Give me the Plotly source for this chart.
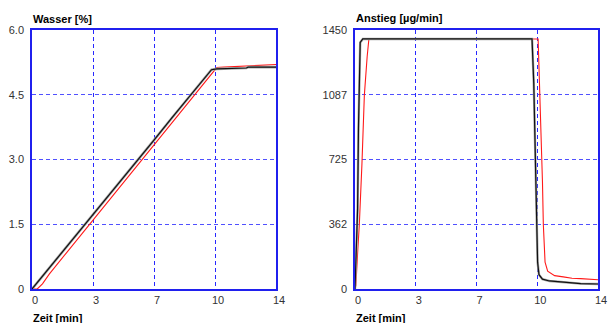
import plotly.graph_objects as go

# ---- data ----
w_t_black = [0, 1, 2, 3, 4, 5, 6, 7, 8, 9, 9.7, 10.3, 10.6, 11.5, 12.3, 12.4, 14]
w_v_black = [0, 0.49, 0.98, 1.47, 1.96, 2.46, 2.95, 3.45, 3.95, 4.45, 4.8, 5.08, 5.10, 5.11, 5.12, 5.14, 5.14]
w_t_red = [0, 0.3, 0.6, 1, 2, 3, 4, 5, 6, 7, 8, 9, 10, 10.6, 11, 12, 12.3, 13, 14]
w_v_red = [0, 0, 0.12, 0.35, 0.85, 1.35, 1.85, 2.35, 2.85, 3.35, 3.85, 4.35, 4.85, 5.13, 5.14, 5.16, 5.18, 5.19, 5.2]

a_t_black = [0, 0.05, 0.1, 0.15, 0.2, 0.25, 0.3, 0.45, 10.2, 10.3, 10.4, 10.48, 10.52, 10.6, 10.8, 11.2, 12, 13, 14]
a_v_black = [0, 150, 250, 450, 900, 1200, 1380, 1400, 1400, 1150, 700, 362, 150, 80, 55, 45, 38, 30, 28]
a_t_red = [0, 0.05, 0.15, 0.25, 0.4, 0.54, 0.7, 0.8, 10.55, 10.6, 10.68, 10.8, 10.85, 10.95, 11.1, 11.5, 12, 12.5, 13, 14]
a_v_red = [0, 20, 200, 362, 700, 1087, 1300, 1400, 1400, 1250, 1087, 600, 362, 150, 100, 75, 68, 60, 58, 52]

x_tickvals = [0, 3.5, 7, 10.5, 14]
x_ticktext = ["0", "3", "7", "10", "14"]
w_tickvals = [0, 1.5, 3.0, 4.5, 6.0]
w_ticktext = ["0", "1.5", "3.0", "4.5", "6.0"]
a_tickvals = [0, 362.5, 725, 1087.5, 1450]
a_ticktext = ["0", "362", "725", "1087", "1450"]

W, H = 612, 323
FONT = "Liberation Sans, Arial, sans-serif"

fig = go.Figure()
fig.add_trace(go.Scatter(x=w_t_red, y=w_v_red, mode="lines", line=dict(color="#ff1a1a", width=1.1), xaxis="x", yaxis="y"))
fig.add_trace(go.Scatter(x=w_t_black, y=w_v_black, mode="lines", line=dict(color="#a8a8a8", width=2.6), xaxis="x", yaxis="y"))
fig.add_trace(go.Scatter(x=w_t_black, y=w_v_black, mode="lines", line=dict(color="#111111", width=1.2), xaxis="x", yaxis="y"))
fig.add_trace(go.Scatter(x=a_t_red, y=a_v_red, mode="lines", line=dict(color="#ff1a1a", width=1.1), xaxis="x2", yaxis="y2"))
fig.add_trace(go.Scatter(x=a_t_black, y=a_v_black, mode="lines", line=dict(color="#a8a8a8", width=2.4), xaxis="x2", yaxis="y2"))
fig.add_trace(go.Scatter(x=a_t_black, y=a_v_black, mode="lines", line=dict(color="#111111", width=1.2), xaxis="x2", yaxis="y2"))

ydom = [34 / H, 293 / H]
common_x = dict(range=[0, 14], tickvals=x_tickvals, ticktext=x_ticktext, showgrid=True,
                gridcolor="rgb(40,40,255)", griddash="4px,3px", gridwidth=1.2, showline=True, linecolor="#2020ee",
                linewidth=1.5, mirror=True, zeroline=False, ticks="", ticklabelshift=3,
                tickfont=dict(family=FONT, size=11, color="#333333"))
common_y = dict(showgrid=True, gridcolor="rgb(80,80,255)", griddash="4px,3px", gridwidth=1, showline=True,
                linecolor="#2020ee", linewidth=1.5, mirror=True, zeroline=False, ticks="",
                ticklabelstandoff=4,
                tickfont=dict(family=FONT, size=11, color="#333333"), domain=ydom)

fig.update_layout(
    template="none",
    width=W, height=H, margin=dict(l=0, r=0, t=0, b=0), showlegend=False,
    paper_bgcolor="white", plot_bgcolor="white",
    xaxis=dict(domain=[32 / W, 276 / W], anchor="y", **common_x),
    yaxis=dict(range=[0, 6], tickvals=w_tickvals, ticktext=w_ticktext, anchor="x", **common_y),
    xaxis2=dict(domain=[355 / W, 598 / W], anchor="y2", **common_x),
    yaxis2=dict(range=[0, 1450], tickvals=a_tickvals, ticktext=a_ticktext, anchor="x2", **common_y),
)

ann_font = dict(family=FONT, size=11, color="black")
for txt, xp, yp in [("<b>Wasser [%]</b>", 31, 19), ("<b>Anstieg [µg/min]</b>", 354, 18),
                    ("<b>Zeit [min]</b>", 31, 318), ("<b>Zeit [min]</b>", 354, 318)]:
    fig.add_annotation(text=txt, x=xp / W, y=1 - yp / H, xref="paper", yref="paper",
                       xanchor="left", yanchor="middle", showarrow=False, font=ann_font)

fig.write_html("out.html", config={"displayModeBar": False},
               post_script="document.body.style.margin='0';document.body.style.overflow='hidden';")
